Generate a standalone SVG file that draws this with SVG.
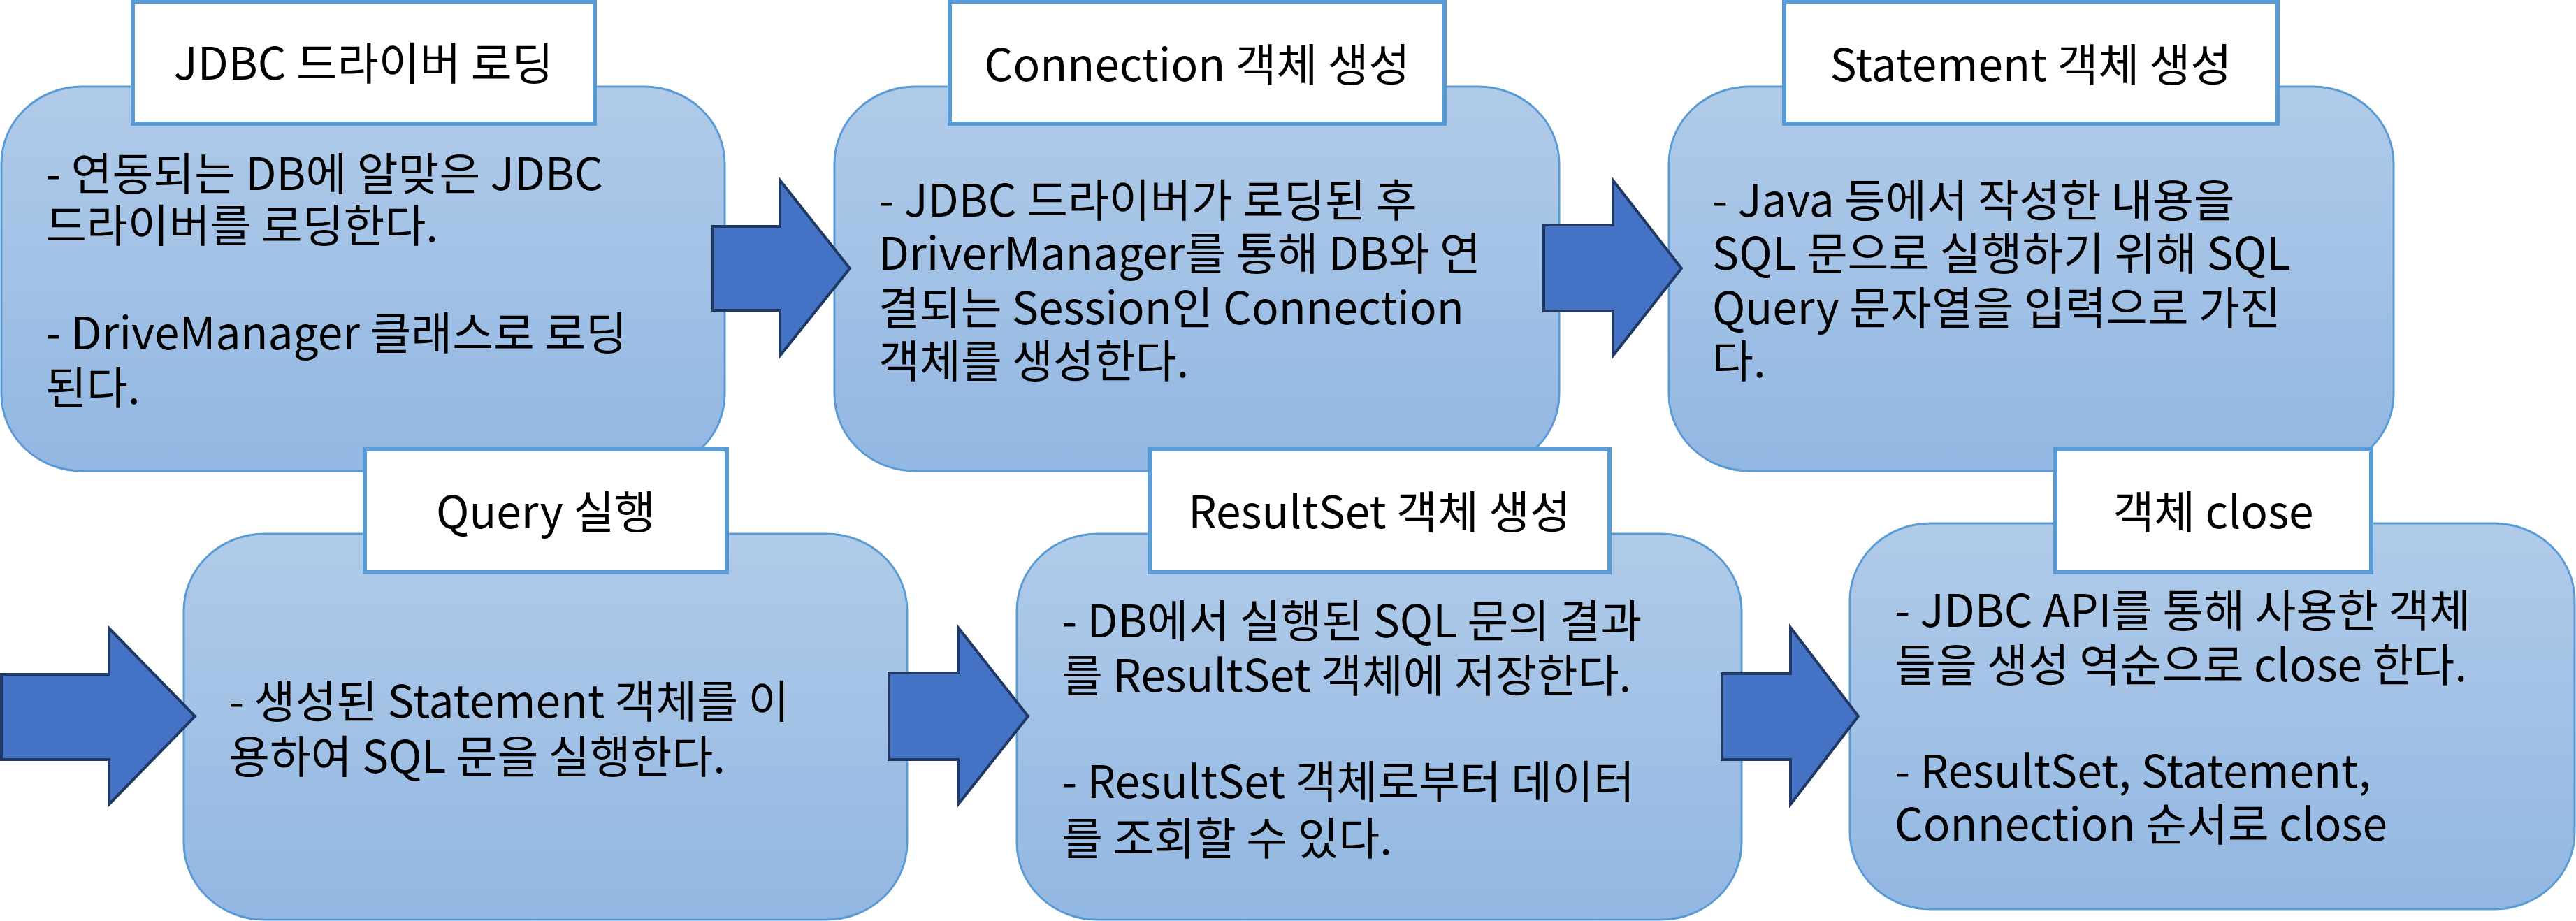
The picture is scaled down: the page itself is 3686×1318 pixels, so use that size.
<svg xmlns="http://www.w3.org/2000/svg" width="3686" height="1318" viewBox="0 0 3686 1318">
<defs>
<linearGradient id="g" x1="0" y1="0" x2="0" y2="1">
<stop offset="0" stop-color="#B1CBE9"/>
<stop offset="1" stop-color="#92B7E2"/>
</linearGradient>
</defs>
<style>
.box{fill:url(#g);stroke:#5B9BD5;stroke-width:3}
.lab{fill:#fff;stroke:#5B9BD5;stroke-width:6}
.arr{fill:#4472C4;stroke:#1F3864;stroke-width:4}
text{font-family:"Malgun Gothic","Noto Sans CJK KR","Noto Sans",sans-serif;font-size:64px;fill:#000}
.t{text-anchor:middle}
</style>
<rect width="3686" height="1318" fill="#fff"/>
<g id="n1">
<rect class="box" x="2" y="124" width="1035" height="550" rx="115" ry="110"/>
<rect class="lab" x="190" y="3" width="661" height="174"/>
<text class="t" x="520" y="114">JDBC 드라이버 로딩</text>
<text x="65" y="272">- 연동되는 DB에 알맞은 JDBC</text>
<text x="65" y="346">드라이버를 로딩한다.</text>
<text x="65" y="500">- DriveManager 클래스로 로딩</text>
<text x="65" y="578">된다.</text>
</g>
<g id="n2">
<rect class="box" x="1194" y="124" width="1037" height="550" rx="115" ry="110"/>
<rect class="lab" x="1359" y="3" width="708" height="174"/>
<text class="t" x="1713" y="116">Connection 객체 생성</text>
<text x="1257" y="310">- JDBC 드라이버가 로딩된 후</text>
<text x="1257" y="386">DriverManager를 통해 DB와 연</text>
<text x="1257" y="464">결되는 Session인 Connection</text>
<text x="1257" y="540">객체를 생성한다.</text>
</g>
<g id="n3">
<rect class="box" x="2388" y="124" width="1037" height="550" rx="115" ry="110"/>
<rect class="lab" x="2553" y="3" width="706" height="174"/>
<text class="t" x="2906" y="116">Statement 객체 생성</text>
<text x="2450" y="310">- Java 등에서 작성한 내용을</text>
<text x="2450" y="386">SQL 문으로 실행하기 위해 SQL</text>
<text x="2450" y="464">Query 문자열을 입력으로 가진</text>
<text x="2450" y="540">다.</text>
</g>
<g id="n4">
<rect class="box" x="263" y="764" width="1035" height="552" rx="115" ry="110"/>
<rect class="lab" x="522" y="643" width="518" height="176"/>
<text class="t" x="781" y="756">Query 실행</text>
<text x="327" y="1027">- 생성된 Statement 객체를 이</text>
<text x="327" y="1106">용하여 SQL 문을 실행한다.</text>
</g>
<g id="n5">
<rect class="box" x="1455" y="764" width="1037" height="552" rx="115" ry="110"/>
<rect class="lab" x="1645" y="643" width="658" height="176"/>
<text class="t" x="1974" y="756">ResultSet 객체 생성</text>
<text x="1519" y="912">- DB에서 실행된 SQL 문의 결과</text>
<text x="1519" y="990">를 ResultSet 객체에 저장한다.</text>
<text x="1519" y="1142">- ResultSet 객체로부터 데이터</text>
<text x="1519" y="1223">를 조회할 수 있다.</text>
</g>
<g id="n6">
<rect class="box" x="2647" y="749" width="1037" height="552" rx="115" ry="110"/>
<rect class="lab" x="2941" y="643" width="452" height="176"/>
<text class="t" x="3167" y="756">객체 close</text>
<text x="2711" y="897">- JDBC API를 통해 사용한 객체</text>
<text x="2711" y="975">들을 생성 역순으로 close 한다.</text>
<text x="2711" y="1127">- ResultSet, Statement,</text>
<text x="2711" y="1203">Connection 순서로 close</text>
</g>
<g id="connectors">
<path class="arr" d="M1020 324 L1116 324 L1116 258 L1216 384 L1116 509 L1116 444 L1020 444 Z"/>
<path class="arr" d="M2209 322 L2308 322 L2308 258 L2406 384 L2308 509 L2308 445 L2209 445 Z"/>
<path class="arr" d="M2 965 L156 965 L156 899 L279 1025 L156 1151 L156 1087 L2 1087 Z"/>
<path class="arr" d="M1272 963 L1371 963 L1371 898 L1471 1025 L1371 1151 L1371 1087 L1272 1087 Z"/>
<path class="arr" d="M2464 964 L2562 964 L2562 898 L2659 1025 L2562 1151 L2562 1087 L2464 1087 Z"/>
</g>
</svg>
